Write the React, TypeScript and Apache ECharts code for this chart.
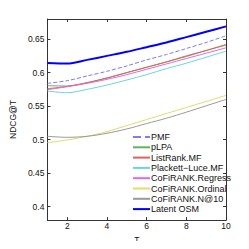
import React, { useEffect, useRef } from "react";
import * as echarts from "echarts";

const T = [1, 2, 3, 4, 5, 6, 7, 8, 9, 10];
const pmf = [0.584, 0.588, 0.595, 0.602, 0.61, 0.619, 0.627, 0.636, 0.645, 0.655];
const plpa = [0.5805, 0.58, 0.585, 0.592, 0.6, 0.608, 0.616, 0.624, 0.633, 0.641];
const listRank = [0.576, 0.5795, 0.585, 0.592, 0.6, 0.608, 0.616, 0.625, 0.633, 0.642];
const plackett = [0.5725, 0.57, 0.575, 0.5815, 0.589, 0.597, 0.606, 0.614, 0.623, 0.632];
const regress = [0.5745, 0.579, 0.584, 0.59, 0.597, 0.605, 0.613, 0.621, 0.629, 0.637];
const ordinal = [0.4955, 0.4995, 0.505, 0.512, 0.521, 0.53, 0.539, 0.548, 0.557, 0.566];
const n10 = [0.505, 0.5035, 0.505, 0.5095, 0.516, 0.524, 0.532, 0.541, 0.5505, 0.56];
const latent = [0.6145, 0.6135, 0.619, 0.625, 0.631, 0.638, 0.645, 0.653, 0.661, 0.669];

const seriesDefs = [
  { name: "PMF", data: pmf, color: "#7b7bff", width: 1, type: "dashed" },
  { name: "pLPA", data: plpa, color: "#5cb85c", width: 1, type: "solid" },
  { name: "ListRank.MF", data: listRank, color: "#e0605a", width: 1, type: "solid" },
  { name: "Plackett\u2212Luce.MF", data: plackett, color: "#66d8d8", width: 1, type: "solid" },
  { name: "CoFiRANK.Regress", data: regress, color: "#e466e4", width: 1, type: "solid" },
  { name: "CoFiRANK.Ordinal", data: ordinal, color: "#dede6a", width: 1, type: "solid" },
  { name: "CoFiRANK.N@10", data: n10, color: "#9a9a9a", width: 1, type: "solid" },
  { name: "Latent OSM", data: latent, color: "#0000ff", width: 2, type: "solid" },
];

const yTicks = [0.4, 0.45, 0.5, 0.55, 0.6, 0.65];
const xTicks = [2, 4, 6, 8, 10];

export default function App() {
  const ref = useRef<HTMLDivElement>(null);
  useEffect(() => {
    if (!ref.current) return;
    const chart = echarts.init(ref.current, undefined, { renderer: "svg" });
    const axisLine = { show: true, lineStyle: { color: "#333", width: 1 } };
    const font = "Liberation Sans, Arial, sans-serif";
    const tick = { inside: true, length: 3, lineStyle: { color: "#333" } };
    chart.setOption({
      animation: false,
      backgroundColor: "#fff",
      grid: { left: 32, right: 23, top: 19, bottom: 28, containLabel: false },
      legend: {
        orient: "vertical",
        left: 132,
        top: 132.5,
        itemWidth: 17,
        itemHeight: 8,
        itemGap: 1.3,
        padding: 0,
        itemStyle: { opacity: 0 },
        textStyle: { fontSize: 9, color: "#111", fontFamily: font, padding: [0, 0, 0, -4] },
        data: seriesDefs.map((s) => s.name),
      },
      xAxis: [
        {
          type: "value",
          min: 1,
          max: 10,
          axisLine,
          axisTick: { ...tick, customValues: xTicks },
          axisLabel: { fontSize: 8.5, color: "#111", fontFamily: font, margin: 1, customValues: xTicks },
          splitLine: { show: false },
          name: "T",
          nameLocation: "middle",
          nameGap: 13,
          nameTextStyle: { fontSize: 8.5, color: "#111", fontFamily: font },
        },
        {
          type: "value",
          position: "top",
          min: 1,
          max: 10,
          axisLine,
          axisTick: { ...tick, customValues: xTicks },
          axisLabel: { show: false },
          splitLine: { show: false },
        },
      ],
      yAxis: [
        {
          type: "value",
          min: 0.38,
          max: 0.68,
          axisLine,
          axisTick: { ...tick, customValues: yTicks },
          axisLabel: {
            fontSize: 8.5,
            color: "#111",
            fontFamily: font,
            margin: 3,
            customValues: yTicks,
            formatter: (v: number) => String(parseFloat(v.toFixed(2))),
          },
          splitLine: { show: false },
          name: "NDCG@T",
          nameLocation: "middle",
          nameGap: 21,
          nameTextStyle: { fontSize: 8.5, color: "#111", fontFamily: font },
        },
        {
          type: "value",
          position: "right",
          min: 0.38,
          max: 0.68,
          axisLine,
          axisTick: { ...tick, customValues: yTicks },
          axisLabel: { show: false },
          splitLine: { show: false },
        },
      ],
      series: seriesDefs.map((s) => ({
        name: s.name,
        type: "line",
        xAxisIndex: 0,
        yAxisIndex: 0,
        symbol: "none",
        smooth: 0.3,
        data: T.map((t, i) => [t, s.data[i]]),
        lineStyle: { color: s.color, width: s.width, type: s.type },
        itemStyle: { color: s.color },
      })),
    });
    return () => chart.dispose();
  }, []);
  return <div ref={ref} style={{ width: 249, height: 249, margin: -8 }} />;
}
